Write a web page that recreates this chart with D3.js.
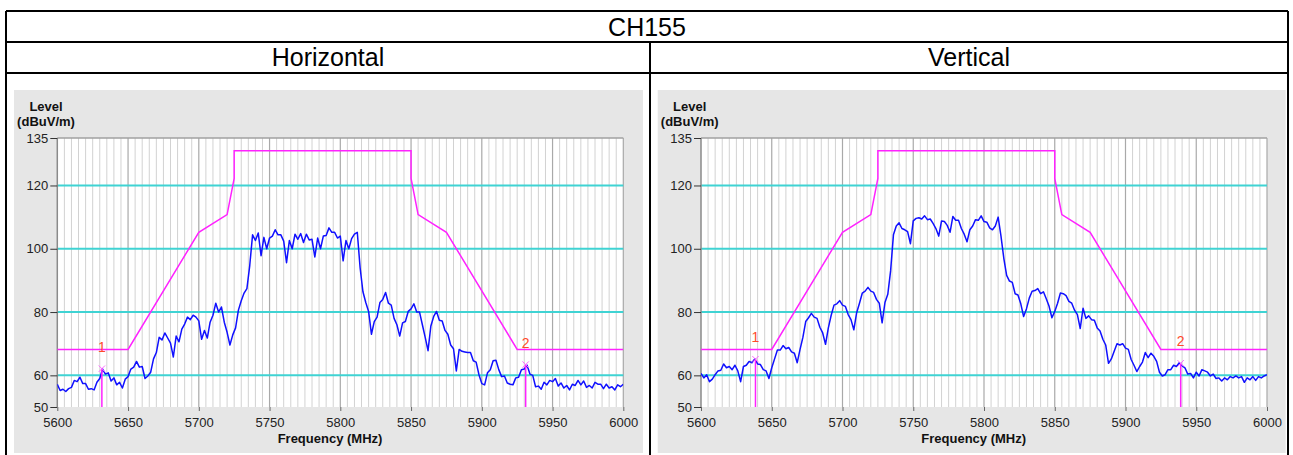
<!DOCTYPE html>
<html><head><meta charset="utf-8">
<script src="https://cdn.jsdelivr.net/npm/d3@7"></script>
<style>
body{margin:0;background:#fff;}
svg{display:block;}
text{font-family:"Liberation Sans",Arial,sans-serif;}
</style>
</head><body>
<svg id="c" width="1293" height="455"></svg>
<script>
// ---------- DATA ----------
const chartTitle = "CH155";
const panelTitles = ["Horizontal", "Vertical"];
const yTicks = [50, 60, 80, 100, 120, 135];
const yGrid = [60, 80, 100, 120];
const xTicks = [5600, 5650, 5700, 5750, 5800, 5850, 5900, 5950, 6000];
const yLabel = ["Level", "(dBuV/m)"];
const xLabel = "Frequency (MHz)";
const limitFreq  = [5600, 5650, 5700, 5720, 5725, 5725, 5850, 5850, 5855, 5875, 5925, 6000];
const limitLevel = [68.2, 68.2, 105.2, 110.8, 122.2, 131, 131, 122.2, 110.8, 105.2, 68.2, 68.2];
const freqs = d3.range(5600, 6001, 2);
const hLevel = [
 57.2, 55.2, 55.6, 54.9, 55.8, 56.2, 58.4, 58.0, 59.4, 57.4,
 57.4, 55.6, 55.8, 55.4, 57.8, 59.0, 62.0, 60.4, 60.8, 58.2,
 59.2, 57.0, 57.8, 56.0, 58.8, 59.6, 62.0, 62.6, 64.4, 62.6,
 62.8, 59.0, 59.8, 61.0, 65.2, 67.2, 72.0, 71.2, 73.4, 71.8,
 70.2, 65.8, 72.4, 70.6, 74.6, 76.2, 78.4, 77.6, 79.0, 78.4,
 77.2, 71.4, 74.2, 71.8, 76.8, 79.0, 82.8, 80.0, 81.6, 76.8,
 73.6, 69.6, 72.8, 75.0, 80.6, 83.6, 86.0, 87.4, 94.7, 104.4,
 102.6, 105.0, 97.8, 103.6, 100.0, 103.4, 104.0, 106.0, 104.4, 104.4,
 102.4, 95.6, 102.6, 100.0, 104.6, 103.0, 104.8, 102.0, 104.6, 102.8,
 103.0, 97.4, 103.4, 100.0, 104.0, 104.2, 106.6, 105.2, 105.2, 103.4,
 104.0, 96.2, 102.6, 100.0, 103.2, 104.6, 105.2, 94.0, 86.4, 83.0,
 80.2, 73.0, 77.0, 78.4, 83.0, 84.0, 86.2, 82.8, 82.2, 78.0,
 76.0, 72.4, 76.6, 77.0, 80.2, 81.0, 82.6, 80.0, 80.0, 76.0,
 72.0, 67.8, 75.6, 78.6, 80.2, 77.4, 77.2, 74.2, 73.0, 69.6,
 68.4, 61.4, 68.2, 67.6, 67.4, 67.2, 67.2, 64.6, 64.2, 60.2,
 57.4, 57.0, 60.8, 61.8, 64.6, 64.8, 61.8, 59.6, 59.8, 57.6,
 57.2, 57.0, 59.2, 59.4, 61.8, 62.0, 63.2, 60.4, 60.0, 56.4,
 56.6, 55.6, 57.8, 57.0, 58.4, 58.0, 59.0, 56.6, 57.6, 56.0,
 56.8, 55.4, 57.2, 56.8, 58.4, 57.0, 58.2, 56.2, 56.8, 56.0,
 57.8, 57.2, 57.2, 55.8, 57.2, 56.0, 56.4, 55.4, 57.0, 56.4,
 57.2
];
const vLevel = [
 60.6, 59.2, 60.2, 58.0, 58.8, 60.2, 61.4, 61.6, 63.6, 62.4,
 62.8, 61.8, 63.2, 61.4, 58.0, 62.8, 63.2, 64.4, 64.0, 65.2,
 63.6, 63.4, 61.8, 61.4, 59.0, 62.4, 65.2, 68.0, 68.0, 69.4,
 68.4, 68.8, 67.4, 67.0, 64.0, 68.2, 72.0, 77.0, 78.2, 79.6,
 78.4, 78.0, 75.2, 73.4, 69.8, 75.0, 79.0, 82.2, 82.6, 83.6,
 82.2, 81.8, 79.2, 77.6, 74.4, 79.8, 82.8, 86.0, 86.6, 87.8,
 86.6, 86.2, 84.0, 82.8, 76.6, 83.0, 85.6, 93.0, 104.4, 107.2,
 108.2, 106.4, 106.0, 105.4, 101.6, 108.8, 109.6, 109.8, 109.4, 110.4,
 109.2, 109.4, 108.0, 106.4, 104.0, 108.8, 108.6, 107.4, 105.2, 110.2,
 109.0, 109.0, 106.4, 104.6, 102.2, 106.0, 107.2, 109.2, 109.0, 110.4,
 108.6, 108.4, 106.6, 106.0, 107.2, 110.0, 104.0, 97.0, 91.6, 89.8,
 89.4, 85.8, 85.4, 82.6, 78.6, 81.0, 84.4, 86.6, 86.8, 87.4,
 85.8, 86.4, 84.2, 81.8, 78.2, 80.2, 82.8, 86.0, 85.8, 85.2,
 83.4, 82.8, 80.6, 79.2, 74.8, 81.2, 78.0, 78.8, 77.6, 77.4,
 75.0, 74.0, 71.4, 69.6, 63.8, 65.2, 67.6, 70.0, 69.6, 70.0,
 68.6, 68.2, 65.0, 63.2, 61.2, 62.8, 64.2, 67.2, 65.6, 67.0,
 66.0, 64.4, 61.0, 59.8, 60.2, 61.8, 61.8, 63.2, 62.8, 64.0,
 63.0, 62.4, 60.4, 60.6, 59.2, 61.0, 59.8, 61.8, 61.4, 61.0,
 59.8, 60.4, 59.0, 59.2, 58.2, 59.2, 58.6, 59.6, 59.2, 59.8,
 59.2, 59.6, 57.8, 59.2, 58.6, 59.6, 58.4, 59.6, 59.2, 59.8,
 60.2
];
const hMarkerFreq = [5631.5, 5931];
const hMarkerLevel = [62.1, 63.4];
const vMarkerFreq = [5638.5, 5939];
const vMarkerLevel = [65.1, 63.8];
const markerNames = ["1", "2"];

// ---------- LAYOUT ----------
const svg = d3.select("#c");
const tbl = {l: 6, r: 1288, mid: 650, top: 11, row1: 42, row2: 73, bottom: 460};

const lines = [
  [tbl.l, tbl.top, tbl.r, tbl.top],
  [tbl.l, tbl.row1, tbl.r, tbl.row1],
  [tbl.l, tbl.row2, tbl.r, tbl.row2],
  [tbl.l, tbl.top, tbl.l, tbl.bottom],
  [tbl.r, tbl.top, tbl.r, tbl.bottom],
  [tbl.mid, tbl.row1, tbl.mid, tbl.bottom]
];

const panels = [
  {x0: 14, w: 629, title: panelTitles[0], level: hLevel, mf: hMarkerFreq, ml: hMarkerLevel},
  {x0: 657.7, w: 628, title: panelTitles[1], level: vLevel, mf: vMarkerFreq, ml: vMarkerLevel}
];

panels.forEach((p, i) => {
  const g = svg.append("g");
  g.append("rect").attr("x", p.x0).attr("y", 90).attr("width", p.w).attr("height", 363).attr("fill", "#e6e6e6");
  const pl = p.x0 + 43.3, pr = pl + 566, pt = 138, pb = 407;
  const x = d3.scaleLinear().domain([5600, 6000]).range([pl, pr]);
  const y = d3.scaleLinear().domain([50, 135]).range([pb, pt]);
  g.append("rect").attr("x", pl).attr("y", pt).attr("width", pr - pl).attr("height", pb - pt).attr("fill", "#fff");
  const minor = d3.range(5605, 6000, 5).filter(f => f % 50 !== 0);
  g.selectAll(".mn").data(minor).join("line")
    .attr("x1", d => x(d)).attr("x2", d => x(d)).attr("y1", pt).attr("y2", pb)
    .attr("stroke", "#d2d2d2").attr("stroke-width", 1);
  g.selectAll(".mj").data(xTicks.slice(1)).join("line")
    .attr("x1", d => x(d)).attr("x2", d => x(d)).attr("y1", pt).attr("y2", pb)
    .attr("stroke", "#a9a9a9").attr("stroke-width", 1.2);
  g.selectAll(".hg").data(yGrid).join("line")
    .attr("x1", pl).attr("x2", pr).attr("y1", d => y(d)).attr("y2", d => y(d))
    .attr("stroke", "#3fd3d3").attr("stroke-width", 2);
  g.append("line").attr("x1", pl).attr("x2", pr).attr("y1", pt).attr("y2", pt).attr("stroke", "#a0a0a0").attr("stroke-width", 1.5);
  g.append("line").attr("x1", pl).attr("x2", pl).attr("y1", pt).attr("y2", pb).attr("stroke", "#8a8a8a").attr("stroke-width", 1.5);

  const ya = g.append("g").attr("transform", `translate(${pl},0)`)
    .call(d3.axisLeft(y).tickValues(yTicks).tickSize(7).tickPadding(2));
  ya.select(".domain").remove();
  ya.selectAll("text").attr("font-size", 13).attr("fill", "#222").attr("font-family", "Liberation Sans, Arial, sans-serif");
  ya.selectAll("line").attr("stroke", "#333");
  const xa = g.append("g").attr("transform", `translate(0,${pb})`)
    .call(d3.axisBottom(x).tickValues(xTicks).tickFormat(d3.format("d")).tickSize(4).tickPadding(7));
  xa.select(".domain").remove();
  xa.selectAll("text").attr("font-size", 13).attr("fill", "#222").attr("font-family", "Liberation Sans, Arial, sans-serif");
  xa.selectAll("line").attr("stroke", "#666");

  g.append("text").attr("x", p.x0 + 32).attr("y", 110.5).attr("text-anchor", "middle")
    .attr("font-size", 13).attr("font-weight", "bold").attr("fill", "#111").text(yLabel[0]);
  g.append("text").attr("x", p.x0 + 32).attr("y", 126).attr("text-anchor", "middle")
    .attr("font-size", 13).attr("font-weight", "bold").attr("fill", "#111").text(yLabel[1]);
  g.append("text").attr("x", p.x0 + 316).attr("y", 442.5).attr("text-anchor", "middle")
    .attr("font-size", 13).attr("font-weight", "bold").attr("fill", "#111").text(xLabel);

  const cid = "clip" + i;
  svg.append("clipPath").attr("id", cid).append("rect").attr("x", pl).attr("y", pt).attr("width", pr - pl).attr("height", pb - pt);
  const pg = g.append("g").attr("clip-path", `url(#${cid})`);

  const lim = limitFreq.map((f, k) => [f, limitLevel[k]]);
  pg.append("path").datum(lim)
    .attr("d", d3.line().x(d => x(d[0])).y(d => y(d[1])))
    .attr("fill", "none").attr("stroke", "#ff22ff").attr("stroke-width", 1.5);

  const tr = freqs.map((f, k) => [f, p.level[k]]);
  pg.append("path").datum(tr)
    .attr("d", d3.line().x(d => x(d[0])).y(d => y(d[1])))
    .attr("fill", "none").attr("stroke", "#1010ff").attr("stroke-width", 1.5).attr("stroke-linejoin", "round");

  p.mf.forEach((f, k) => {
    const mx = x(f), my = y(p.ml[k]);
    pg.append("line").attr("x1", mx).attr("x2", mx).attr("y1", my).attr("y2", pb)
      .attr("stroke", "#ff22ff").attr("stroke-width", 1.5);
    pg.append("path").attr("d", d3.symbol(d3.symbolX, 28)())
      .attr("transform", `translate(${mx},${my})`).attr("stroke", "#ff66ff").attr("stroke-width", 1).attr("fill", "none");
    g.append("text").attr("x", mx).attr("y", my - 17).attr("text-anchor", "middle")
      .attr("font-size", 14).attr("fill", "#ff4a2a").text(markerNames[k]);
  });

  svg.append("text").attr("x", i === 0 ? (tbl.l + tbl.mid) / 2 : (tbl.mid + tbl.r) / 2).attr("y", 66)
    .attr("text-anchor", "middle").attr("font-size", 25).attr("fill", "#000").text(p.title);
});

svg.append("text").attr("x", (tbl.l + tbl.r) / 2).attr("y", 36).attr("text-anchor", "middle")
  .attr("font-size", 25).attr("fill", "#000").text(chartTitle);

svg.selectAll(".tb").data(lines).join("line")
  .attr("x1", d => d[0]).attr("y1", d => d[1]).attr("x2", d => d[2]).attr("y2", d => d[3])
  .attr("stroke", "#000").attr("stroke-width", 2);
</script>
</body></html>
